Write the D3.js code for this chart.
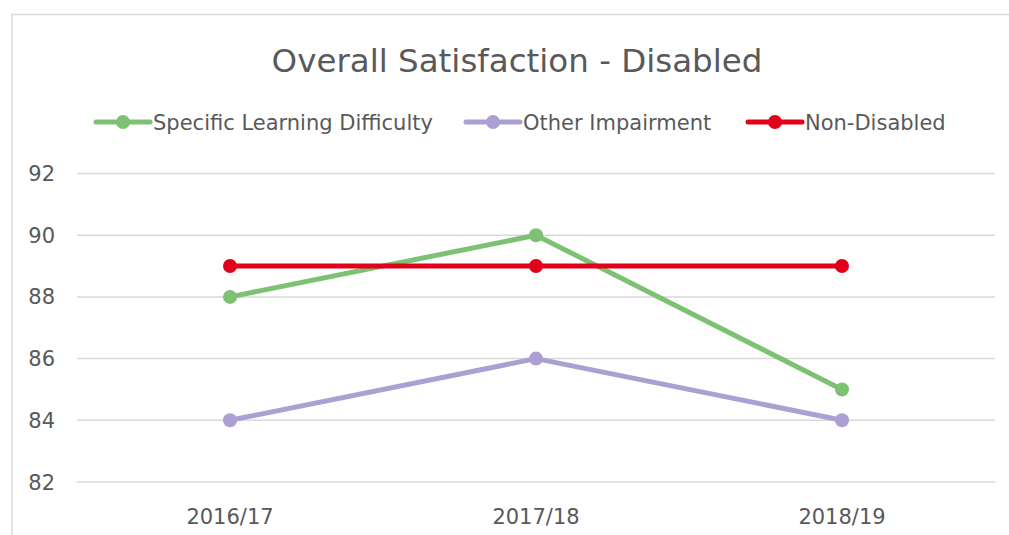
<!DOCTYPE html>
<html>
<head>
<meta charset="utf-8">
<script src="https://cdn.jsdelivr.net/npm/d3@7"></script>
<style>
  body { margin: 0; background: #fff; }
  text { font-family: "DejaVu Sans", sans-serif; fill: #595959; }
</style>
</head>
<body>
<svg id="chart" width="1009" height="535"></svg>
<script>
var years = ["2016/17", "2017/18", "2018/19"];
var seriesNames = ["Specific Learning Difficulty", "Other Impairment", "Non-Disabled"];
var sldValues = [88, 90, 85];
var otherValues = [84, 86, 84];
var nonDisabledValues = [89, 89, 89];
var yTicks = [82, 84, 86, 88, 90, 92];

var colors = ["#7dc173", "#aba0d1", "#e3001b"];
var allSeries = [sldValues, otherValues, nonDisabledValues];

var svg = d3.select("#chart");

// chart area border
svg.append("rect")
    .attr("x", 12).attr("y", 14.5)
    .attr("width", 1020).attr("height", 540)
    .attr("fill", "none")
    .attr("stroke", "#d9d9d9")
    .attr("stroke-width", 1.5);

var plotLeft = 77, plotRight = 995, plotTop = 173.5, plotBottom = 482;

var x = d3.scaleBand()
    .domain(years)
    .range([plotLeft, plotRight]);

var y = d3.scaleLinear()
    .domain([82, 92])
    .range([plotBottom, plotTop]);

// gridlines
svg.append("g").selectAll("line")
    .data(yTicks)
    .enter().append("line")
    .attr("x1", plotLeft).attr("x2", plotRight)
    .attr("y1", function(d) { return y(d); })
    .attr("y2", function(d) { return y(d); })
    .attr("stroke", "#d9d9d9")
    .attr("stroke-width", 1.5);

// y labels
svg.append("g").selectAll("text")
    .data(yTicks)
    .enter().append("text")
    .attr("x", 55)
    .attr("y", function(d) { return y(d) + 7.5; })
    .attr("text-anchor", "end")
    .style("font-size", "21px")
    .text(function(d) { return d; });

// x labels
svg.append("g").selectAll("text")
    .data(years)
    .enter().append("text")
    .attr("x", function(d) { return x(d) + x.bandwidth() / 2; })
    .attr("y", 524)
    .attr("text-anchor", "middle")
    .style("font-size", "21px")
    .text(function(d) { return d; });

// title
svg.append("text")
    .attr("x", 517)
    .attr("y", 72)
    .attr("text-anchor", "middle")
    .style("font-size", "32.5px")
    .text("Overall Satisfaction - Disabled");

var line = d3.line()
    .x(function(d, i) { return x(years[i]) + x.bandwidth() / 2; })
    .y(function(d) { return y(d); });

allSeries.forEach(function(vals, s) {
    var g = svg.append("g");
    g.append("path")
        .datum(vals)
        .attr("d", line)
        .attr("fill", "none")
        .attr("stroke", colors[s])
        .attr("stroke-width", 5)
        .attr("stroke-linejoin", "round");
    g.selectAll("circle")
        .data(vals)
        .enter().append("circle")
        .attr("cx", function(d, i) { return x(years[i]) + x.bandwidth() / 2; })
        .attr("cy", function(d) { return y(d); })
        .attr("r", 7)
        .attr("fill", colors[s]);
});

// legend
var legendX = [96, 466, 748];
var legendY = 122;
var legend = svg.append("g").selectAll("g")
    .data(seriesNames)
    .enter().append("g")
    .attr("transform", function(d, i) { return "translate(" + legendX[i] + "," + legendY + ")"; });

legend.append("line")
    .attr("x1", 0).attr("x2", 54)
    .attr("y1", 0).attr("y2", 0)
    .attr("stroke", function(d, i) { return colors[i]; })
    .attr("stroke-width", 5)
    .attr("stroke-linecap", "round");

legend.append("circle")
    .attr("cx", 27).attr("cy", 0).attr("r", 7)
    .attr("fill", function(d, i) { return colors[i]; });

legend.append("text")
    .attr("x", 57)
    .attr("y", 7.5)
    .style("font-size", "21px")
    .text(function(d) { return d; });
</script>
</body>
</html>
